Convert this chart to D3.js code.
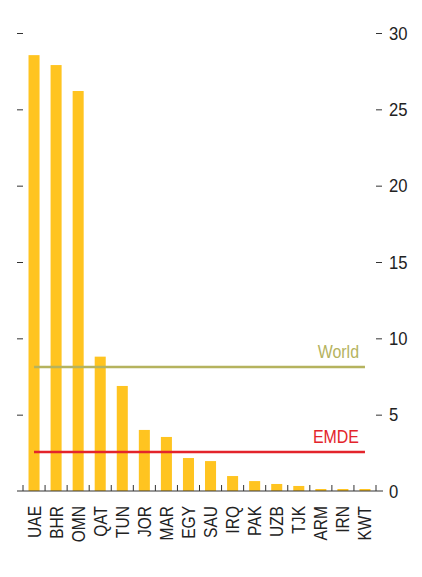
<!DOCTYPE html>
<html><head><meta charset="utf-8">
<script src="https://cdn.jsdelivr.net/npm/d3@7"></script>
<style>body{margin:0;background:#fff}svg{display:block}text{font-family:"Liberation Sans","Arial",sans-serif}</style>
</head><body><svg id="c" width="422" height="577"></svg>
<script>
const categories = ["UAE","BHR","OMN","QAT","TUN","JOR","MAR","EGY","SAU","IRQ","PAK","UZB","TJK","ARM","IRN","KWT"];
const values = [28.55,27.9,26.2,8.8,6.88,4.0,3.54,2.16,1.96,0.98,0.65,0.46,0.33,0.13,0.13,0.13];
const refNames = ["World","EMDE"];
const refValues = [8.13,2.56];
const refColors = ["#b5b35e","#e3242b"];
const yTicks = [0,5,10,15,20,25,30];

const svg = d3.select("#c");
const x = d3.scaleBand().domain(categories).range([23,376]).paddingInner(0.5).paddingOuter(0.25);
const y = d3.scaleLinear().domain([0,30]).range([491,33]);

// bars
svg.append("g").selectAll("rect").data(values).enter().append("rect")
  .attr("x",(d,i)=>x(categories[i])).attr("width",x.bandwidth())
  .attr("y",d=>y(d)).attr("height",d=>y(0)-y(d)).attr("fill","#ffc420");

// ref lines
const x0 = x(categories[0])+x.bandwidth()/2, x1 = x(categories[categories.length-1])+x.bandwidth()/2;
refValues.forEach((v,i)=>{
  svg.append("line").attr("x1",x0).attr("x2",x1).attr("y1",y(v)).attr("y2",y(v))
    .attr("stroke",refColors[i]).attr("stroke-width",2.5);
  svg.append("text").attr("transform",`translate(359,${y(v)-9}) scale(0.84,1)`).attr("text-anchor","end")
    .attr("font-size",19).attr("fill",refColors[i]).text(refNames[i]);
});

// left axis ticks
const yl = svg.append("g").attr("transform","translate(23,0)")
  .call(d3.axisLeft(y).tickValues(yTicks.slice(1)).tickSize(6).tickFormat(""));
yl.select(".domain").remove();
yl.selectAll("line").attr("stroke","#333");
// right axis
const yr = svg.append("g").attr("transform","translate(376,0)")
  .call(d3.axisRight(y).tickValues(yTicks.slice(1)).tickSize(6).tickFormat(""));
yr.select(".domain").remove();
yr.selectAll("line").attr("stroke","#333");
svg.append("g").selectAll("text").data(yTicks).enter().append("text")
  .attr("transform",d=>`translate(389,${y(d)+6.5}) scale(0.9,1)`)
  .attr("font-size",18.5).attr("fill","#222").text(d=>d);

// baseline
svg.append("line").attr("x1",17).attr("x2",383).attr("y1",y(0)).attr("y2",y(0)).attr("stroke","#333").attr("stroke-width",1.2);
// category boundary ticks
const bounds = categories.map(c=>x(c)-x.step()*x.paddingInner()/2).concat([376]);
svg.append("g").selectAll("line").data(bounds).enter().append("line")
  .attr("x1",d=>d).attr("x2",d=>d).attr("y1",y(0)).attr("y2",y(0)-6).attr("stroke","#333");

// x labels
svg.append("g").selectAll("text").data(categories).enter().append("text")
  .attr("transform",d=>`translate(${x(d)+x.bandwidth()/2+6.5},506) rotate(-90) scale(0.84,1)`)
  .attr("text-anchor","end").attr("font-size",18.5).attr("fill","#222").text(d=>d);
</script></body></html>
